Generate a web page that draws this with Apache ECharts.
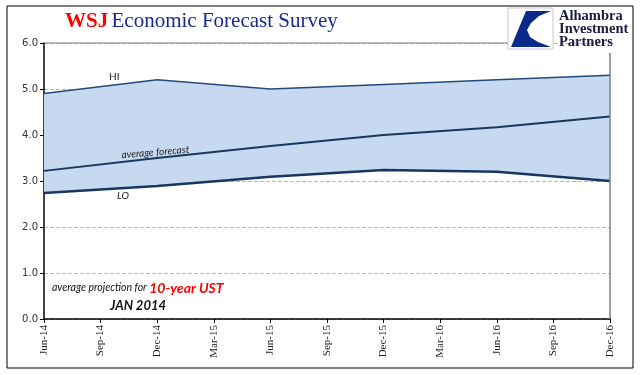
<!DOCTYPE html>
<html>
<head>
<meta charset="utf-8">
<script src="https://cdn.jsdelivr.net/npm/echarts@6/dist/echarts.min.js"></script>
<style>
  html, body { margin: 0; padding: 0; background: #fff; }
  #main { width: 640px; height: 375px; }
</style>
</head>
<body>
<div id="main"></div>
<script>
// quarter tick labels along the bottom
var quarterLabels = ['Jun-14', 'Sep-14', 'Dec-14', 'Mar-15', 'Jun-15', 'Sep-15',
                     'Dec-15', 'Mar-16', 'Jun-16', 'Sep-16', 'Dec-16'];
// survey points are half-yearly (index into quarterLabels)
var pointIdx = [0, 2, 4, 6, 8, 10];
var hiVals  = [4.9, 5.2, 5.0, 5.1, 5.2, 5.3];
var avgVals = [3.22, 3.5, 3.76, 4.0, 4.17, 4.4];
var loVals  = [2.74, 2.89, 3.09, 3.24, 3.2, 3.0];

function pairs(vals) {
  var out = [];
  for (var i = 0; i < vals.length; i++) out.push([pointIdx[i], vals[i]]);
  return out;
}

// band between LO and HI, drawn as one polygon through the axes
function renderBand(params, api) {
  if (params.dataIndex !== 0) return;
  var pts = [];
  for (var i = 0; i < hiVals.length; i++) pts.push(api.coord([pointIdx[i], hiVals[i]]));
  for (var j = loVals.length - 1; j >= 0; j--) pts.push(api.coord([pointIdx[j], loVals[j]]));
  return { type: 'polygon', shape: { points: pts }, style: { fill: '#c6d9f1' } };
}

var navy = '#17375e';
var myChart = echarts.init(document.getElementById('main'));

var option = {
  animation: false,
  grid: { left: 44, right: 30, top: 43, bottom: 56 },
  xAxis: {
    type: 'value',
    min: 0, max: 10, interval: 1,
    axisLine: { show: true, lineStyle: { color: '#000', width: 1.5 } },
    axisTick: { show: true, length: 4, lineStyle: { color: '#000' } },
    splitLine: { show: false },
    axisLabel: {
      rotate: 90,
      fontFamily: 'Liberation Serif',
      fontSize: 11,
      color: '#222',
      margin: 6,
      formatter: function (v) { return quarterLabels[v]; }
    }
  },
  yAxis: {
    type: 'value',
    min: 0, max: 6, interval: 1,
    axisLine: { show: true, lineStyle: { color: '#000', width: 1.5 } },
    axisTick: { show: true, length: 4, lineStyle: { color: '#000' } },
    splitLine: { show: true, lineStyle: { color: '#b8b8b8', type: 'dashed', width: 1 } },
    axisLabel: {
      fontFamily: 'DejaVu Sans',
      fontSize: 10,
      color: '#333',
      margin: 6,
      formatter: function (v) { return v.toFixed(1); }
    }
  },
  series: [
    {
      name: 'band', type: 'custom', renderItem: renderBand,
      data: pairs(hiVals), silent: true, z: 1
    },
    {
      name: 'HI', type: 'line', symbol: 'none',
      data: pairs(hiVals),
      lineStyle: { color: '#244a7c', width: 1.5 }, z: 3
    },
    {
      name: 'average forecast', type: 'line', symbol: 'none',
      data: pairs(avgVals),
      lineStyle: { color: navy, width: 2 }, z: 3
    },
    {
      name: 'LO', type: 'line', symbol: 'none',
      data: pairs(loVals),
      lineStyle: { color: navy, width: 2.5 }, z: 3
    }
  ],
  graphic: [
    // outer frame
    { type: 'rect', shape: { x: 7, y: 6, width: 626, height: 362 },
      style: { fill: null, stroke: '#000', lineWidth: 1 }, z: 10 },
    // plot top and right border
    { type: 'line', shape: { x1: 44, y1: 43, x2: 508, y2: 43 },
      style: { stroke: '#7f7f7f', lineWidth: 1 }, z: 4 },
    { type: 'line', shape: { x1: 610, y1: 53, x2: 610, y2: 319 },
      style: { stroke: '#7f7f7f', lineWidth: 1.5 }, z: 4 },
    // title
    { type: 'text', left: 65, top: 11, z: 10,
      style: { text: '{a|WSJ} {b|Economic Forecast Survey}',
        rich: {
          a: { fontFamily: 'Liberation Serif', fontSize: 21, fontWeight: 'bold', fill: '#ff0000' },
          b: { fontFamily: 'Liberation Serif', fontSize: 21, fill: '#1a2a8c' }
        } } },
    // logo box
    { type: 'rect', shape: { x: 508, y: 8, width: 45, height: 41 },
      style: { fill: '#fff', stroke: '#c8c8c8', lineWidth: 1 }, z: 10 },
    { type: 'polygon', z: 11,
      shape: { points: [[526, 11], [551, 11], [539, 16], [531, 23], [527, 30],
                        [530, 37], [538, 42], [551, 47], [511, 47]] },
      style: { fill: '#0a2a8a' } },
    { type: 'text', left: 559, top: 9, z: 10,
      style: { text: 'Alhambra\nInvestment\nPartners', fontFamily: 'Liberation Serif',
        fontSize: 14.5, lineHeight: 13, fontWeight: 'bold', fill: '#1a1a40' } },
    // series labels
    { type: 'text', left: 109, top: 72, z: 10,
      style: { text: 'HI', fontFamily: 'Lato', fontSize: 10, fill: '#222' } },
    { type: 'text', x: 121, y: 150, rotation: 0.08, z: 10,
      style: { text: 'average forecast', fontFamily: 'Lato', fontStyle: 'italic',
        fontSize: 10, fill: '#222' } },
    { type: 'text', left: 117, top: 191, z: 10,
      style: { text: 'LO', fontFamily: 'Lato', fontStyle: 'italic', fontSize: 10, fill: '#222' } },
    // note
    { type: 'text', left: 52, top: 281, z: 10,
      style: { text: '{a|average projection for }{b|10-year UST}',
        rich: {
          a: { fontFamily: 'Lato', fontStyle: 'italic', fontSize: 10.5, fill: '#111' },
          b: { fontFamily: 'Lato', fontStyle: 'italic', fontWeight: 'bold', fontSize: 14, fill: '#ff0000' }
        } } },
    { type: 'text', left: 110, top: 299, z: 10,
      style: { text: 'JAN 2014', fontFamily: 'Lato', fontStyle: 'italic', fontWeight: 'bold',
        fontSize: 13, fill: '#111' } }
  ]
};
myChart.setOption(option);
</script>
</body>
</html>
